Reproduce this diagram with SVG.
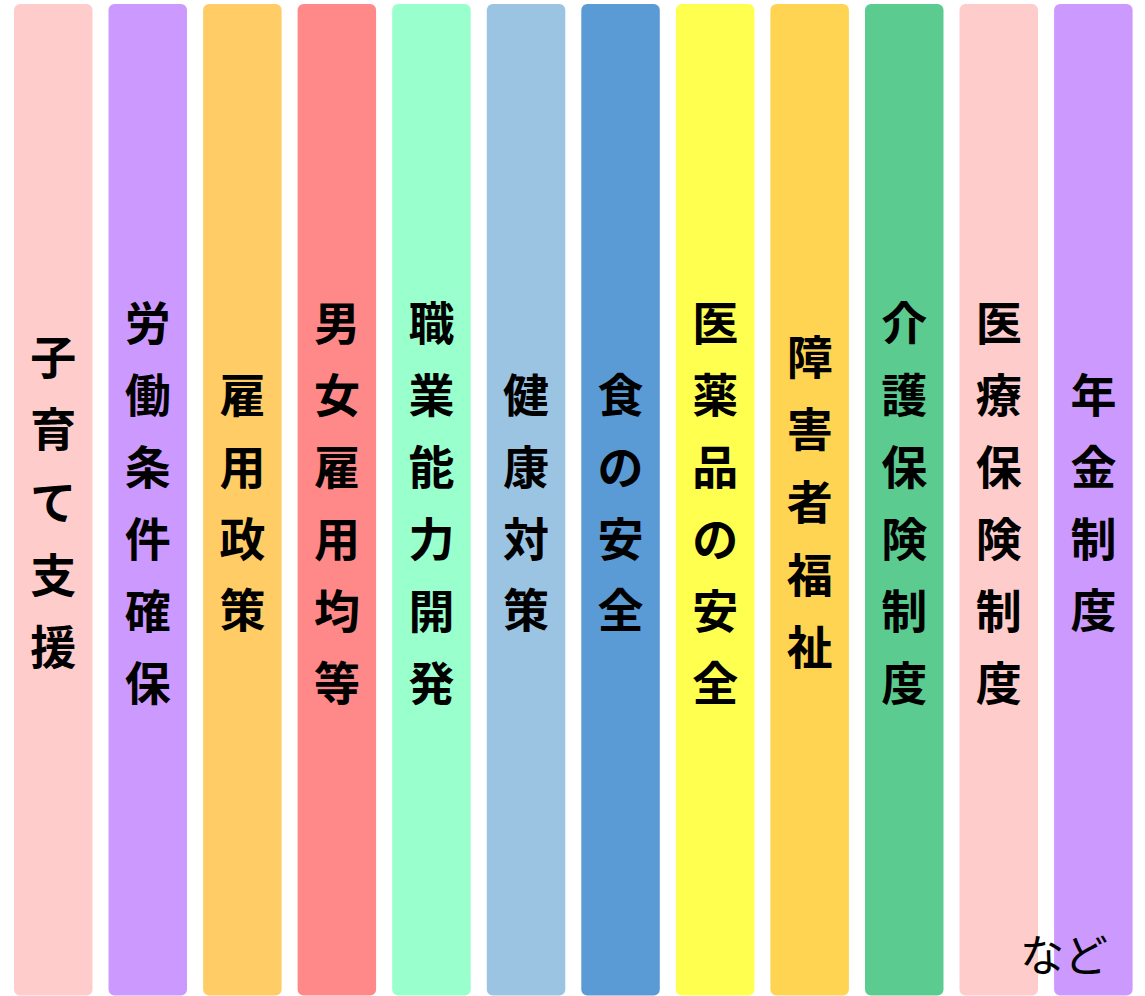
<svg xmlns="http://www.w3.org/2000/svg" width="1145" height="996" viewBox="0 0 1145 996">
<style>
.bar{stroke:none}
.t{font-family:"Noto Sans CJK JP","Noto Sans CJK SC",sans-serif;font-size:46px;font-weight:700;fill:#000;text-anchor:middle;dominant-baseline:central}
.etc{font-family:"Noto Sans CJK JP","Noto Sans CJK SC",sans-serif;font-size:44px;font-weight:400;fill:#000;dominant-baseline:central}
</style>
<rect width="1145" height="996" fill="#fff"/>
<g id="col1"><rect class="bar" x="14" y="4" width="78.5" height="991.5" rx="6" fill="#FFCCCC"/>
<text class="t"><tspan x="53.3" y="354">子</tspan><tspan x="53.3" y="426">育</tspan><tspan x="53.3" y="499">て</tspan><tspan x="53.3" y="572">支</tspan><tspan x="53.3" y="644">援</tspan></text></g>
<g id="col2"><rect class="bar" x="108.5" y="4" width="78.5" height="991.5" rx="6" fill="#CC99FF"/>
<text class="t"><tspan x="147.8" y="320">労</tspan><tspan x="147.8" y="392">働</tspan><tspan x="147.8" y="464">条</tspan><tspan x="147.8" y="536">件</tspan><tspan x="147.8" y="608">確</tspan><tspan x="147.8" y="680">保</tspan></text></g>
<g id="col3"><rect class="bar" x="203.1" y="4" width="78.5" height="991.5" rx="6" fill="#FFCC66"/>
<text class="t"><tspan x="242.4" y="392">雇</tspan><tspan x="242.4" y="464">用</tspan><tspan x="242.4" y="536">政</tspan><tspan x="242.4" y="607">策</tspan></text></g>
<g id="col4"><rect class="bar" x="297.6" y="4" width="78.5" height="991.5" rx="6" fill="#FF8888"/>
<text class="t"><tspan x="336.9" y="320">男</tspan><tspan x="336.9" y="392">女</tspan><tspan x="336.9" y="464">雇</tspan><tspan x="336.9" y="536">用</tspan><tspan x="336.9" y="608">均</tspan><tspan x="336.9" y="680">等</tspan></text></g>
<g id="col5"><rect class="bar" x="392.2" y="4" width="78.5" height="991.5" rx="6" fill="#99FFCC"/>
<text class="t"><tspan x="431.5" y="320">職</tspan><tspan x="431.5" y="392">業</tspan><tspan x="431.5" y="464">能</tspan><tspan x="431.5" y="536">力</tspan><tspan x="431.5" y="608">開</tspan><tspan x="431.5" y="680">発</tspan></text></g>
<g id="col6"><rect class="bar" x="486.8" y="4" width="78.5" height="991.5" rx="6" fill="#9BC4E2"/>
<text class="t"><tspan x="526.1" y="392">健</tspan><tspan x="526.1" y="464">康</tspan><tspan x="526.1" y="536">対</tspan><tspan x="526.1" y="607">策</tspan></text></g>
<g id="col7"><rect class="bar" x="581.3" y="4" width="78.5" height="991.5" rx="6" fill="#5B9BD5"/>
<text class="t"><tspan x="620.6" y="392">食</tspan><tspan x="620.6" y="464">の</tspan><tspan x="620.6" y="536">安</tspan><tspan x="620.6" y="607">全</tspan></text></g>
<g id="col8"><rect class="bar" x="675.9" y="4" width="78.5" height="991.5" rx="6" fill="#FFFF4F"/>
<text class="t"><tspan x="715.2" y="320">医</tspan><tspan x="715.2" y="392">薬</tspan><tspan x="715.2" y="464">品</tspan><tspan x="715.2" y="536">の</tspan><tspan x="715.2" y="608">安</tspan><tspan x="715.2" y="680">全</tspan></text></g>
<g id="col9"><rect class="bar" x="770.4" y="4" width="78.5" height="991.5" rx="6" fill="#FFD452"/>
<text class="t"><tspan x="809.7" y="354">障</tspan><tspan x="809.7" y="426">害</tspan><tspan x="809.7" y="499">者</tspan><tspan x="809.7" y="572">福</tspan><tspan x="809.7" y="644">祉</tspan></text></g>
<g id="col10"><rect class="bar" x="865" y="4" width="78.5" height="991.5" rx="6" fill="#5BCB8F"/>
<text class="t"><tspan x="904.3" y="320">介</tspan><tspan x="904.3" y="392">護</tspan><tspan x="904.3" y="464">保</tspan><tspan x="904.3" y="536">険</tspan><tspan x="904.3" y="608">制</tspan><tspan x="904.3" y="680">度</tspan></text></g>
<g id="col11"><rect class="bar" x="959.5" y="4" width="78.5" height="991.5" rx="6" fill="#FFCCCC"/>
<text class="t"><tspan x="998.8" y="320">医</tspan><tspan x="998.8" y="392">療</tspan><tspan x="998.8" y="464">保</tspan><tspan x="998.8" y="536">険</tspan><tspan x="998.8" y="608">制</tspan><tspan x="998.8" y="680">度</tspan></text></g>
<g id="col12"><rect class="bar" x="1054.1" y="4" width="78.5" height="991.5" rx="6" fill="#CC99FF"/>
<text class="t"><tspan x="1093.4" y="392">年</tspan><tspan x="1093.4" y="464">金</tspan><tspan x="1093.4" y="536">制</tspan><tspan x="1093.4" y="607">度</tspan></text></g>
<g id="connectors"></g>
<text id="etc" class="etc" x="1020" y="953">など</text>
</svg>
